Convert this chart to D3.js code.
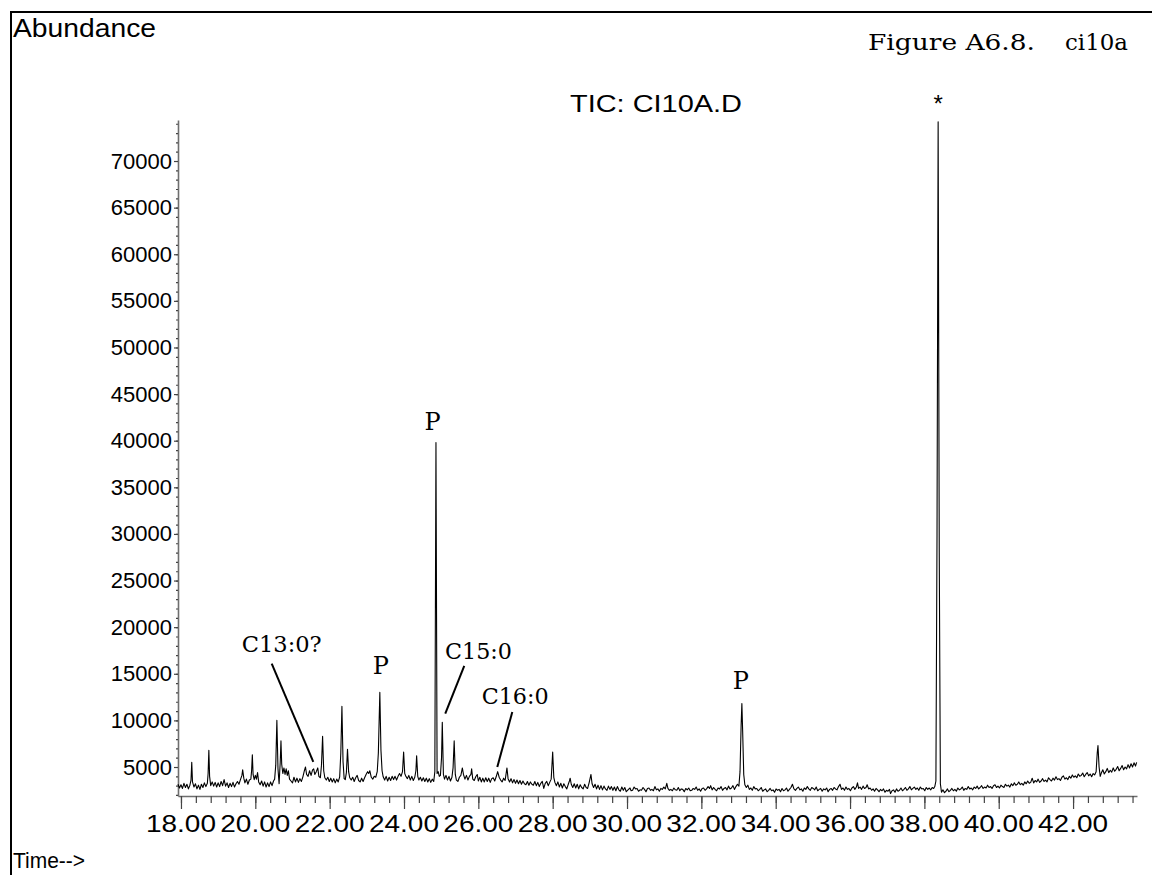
<!DOCTYPE html>
<html>
<head>
<meta charset="utf-8">
<script src="https://cdn.jsdelivr.net/npm/d3@7"></script>
<style>
  html, body { margin: 0; padding: 0; background: #fff; }
  svg { display: block; }
  .sans { font-family: "Liberation Sans", Arial, sans-serif; }
  .serif { font-family: "DejaVu Serif", Georgia, serif; }
</style>
</head>
<body>
<svg id="chart" width="1152" height="875"></svg>
<script>
// Total ion chromatogram, sample CI10A: [retention time (min), abundance]
const scan18to25 = [
  [17.92,3150],[17.96,2750],[18.00,3100],[18.04,2700],[18.08,3250],[18.12,2800],[18.16,3150],[18.20,2650],
  [18.24,3050],[18.27,3600],[18.29,5500],[18.31,3400],[18.35,2850],[18.39,3200],[18.43,2650],[18.47,3050],
  [18.51,2600],[18.55,3150],[18.59,2800],[18.63,3300],[18.67,2900],[18.71,3250],[18.73,4300],[18.75,6800],
  [18.77,4000],[18.80,3000],[18.84,3400],[18.88,2950],[18.92,3350],[18.96,2850],[19.00,3300],[19.04,2900],
  [19.08,3450],[19.12,3000],[19.16,3650],[19.20,2950],[19.24,3300],[19.28,2800],[19.32,3250],[19.36,2900],
  [19.40,3350],[19.44,2850],[19.48,3200],[19.52,3450],[19.56,3150],[19.60,3650],[19.64,4100],[19.66,4700],
  [19.69,3800],[19.72,3300],[19.76,3700],[19.80,3150],[19.84,3600],[19.88,3700],[19.90,4600],[19.92,6300],
  [19.94,4200],[19.97,3650],[20.00,4100],[20.03,3700],[20.06,4400],[20.09,3400],[20.13,3100],[20.17,3500],
  [20.21,2950],[20.25,3400],[20.29,2850],[20.33,3300],[20.37,2900],[20.41,3400],[20.45,3000],[20.49,3500],
  [20.52,3700],[20.55,5200],[20.58,10000],[20.61,4800],[20.64,3200],[20.67,5500],[20.69,7800],[20.71,5300],
  [20.74,4300],[20.77,4900],[20.80,4200],[20.83,4800],[20.86,4100],[20.89,4600],[20.92,3700],[20.96,3500],
  [21.00,3300],[21.04,3900],[21.08,3400],[21.12,3800],[21.16,3350],[21.20,3750],[21.24,3450],[21.28,3950],
  [21.32,4600],[21.35,5000],[21.38,4200],[21.42,4000],[21.46,4600],[21.50,4100],[21.54,4700],[21.57,4800],
  [21.60,4200],[21.64,4500],[21.68,4900],[21.71,4000],[21.75,3850],[21.78,5200],[21.81,8300],[21.84,4600],
  [21.87,3850],[21.91,3600],[21.95,3900],[21.99,3450],[22.03,3800],[22.07,3400],[22.11,3750],[22.15,3300],
  [22.19,3700],[22.23,3400],[22.27,3950],[22.30,6500],[22.33,11500],[22.36,5600],[22.39,3750],[22.42,3650],
  [22.45,4400],[22.48,6900],[22.51,4500],[22.54,3850],[22.58,3600],[22.62,3900],[22.66,3450],[22.70,3850],
  [22.74,4100],[22.78,3550],[22.82,3400],[22.86,3800],[22.90,3450],[22.94,3850],[22.98,4200],[23.02,4500],
  [23.05,4300],[23.08,4600],[23.12,3900],[23.16,3700],[23.20,4000],[23.24,3900],[23.28,4500],[23.31,6500],
  [23.35,13000],[23.38,6800],[23.41,4600],[23.44,3950],[23.48,3600],[23.52,4000],[23.56,3500],[23.60,3900],
  [23.64,3550],[23.68,4000],[23.72,3650],[23.76,4000],[23.80,3600],[23.84,4000],[23.88,4300],[23.92,4000],
  [23.96,4500],[23.99,6600],[24.02,4300],[24.05,4000],[24.09,3750],[24.13,4100],[24.17,3600],[24.21,4000],
  [24.25,3550],[24.29,3900],[24.32,4600],[24.34,6200],[24.37,4000],[24.40,3600],[24.44,3900],[24.48,3500],
  [24.52,3850],[24.56,3450],[24.60,3800],[24.64,3400],[24.68,3750],[24.72,3350],[24.76,3700],[24.80,3450]
];

const scan25to30 = [
  [24.83,4500],[24.86,39800],[24.89,4300],[24.92,4500],[24.95,4000],[24.98,4100],[25.01,6000],[25.03,9800],
  [25.06,4200],[25.09,3700],[25.13,4100],[25.17,3600],[25.21,4000],[25.25,3500],[25.29,3900],[25.32,4900],
  [25.35,7800],[25.38,4200],[25.41,3600],[25.45,3450],[25.49,3900],[25.53,4100],[25.57,4900],[25.60,4200],
  [25.64,3700],[25.68,4100],[25.72,3600],[25.76,4000],[25.80,4200],[25.82,4800],[25.85,3700],[25.89,3550],
  [25.93,3950],[25.97,4200],[26.00,3500],[26.04,3900],[26.08,3400],[26.12,3800],[26.16,3400],[26.20,3850],
  [26.24,3450],[26.28,3800],[26.32,3350],[26.36,3750],[26.40,3850],[26.44,3500],[26.48,3950],[26.52,4500],
  [26.56,3900],[26.60,3600],[26.64,3400],[26.68,3800],[26.72,3550],[26.77,4900],[26.80,3750],[26.84,3400],
  [26.88,3750],[26.92,3300],[26.96,3650],[27.00,3250],[27.04,3600],[27.08,3200],[27.12,3550],[27.16,3150],
  [27.20,3500],[27.24,3200],[27.28,3100],[27.32,3450],[27.36,3050],[27.40,3400],[27.44,3150],[27.48,3050],
  [27.52,3450],[27.56,3000],[27.60,3350],[27.64,2900],[27.68,3250],[27.72,3450],[27.76,2700],[27.80,3250],
  [27.84,3450],[27.88,3000],[27.92,3350],[27.96,3700],[28.00,6600],[28.03,3900],[28.06,3350],[28.10,3000],
  [28.14,3400],[28.18,2850],[28.22,3250],[28.26,2750],[28.30,3200],[28.34,2900],[28.38,2650],[28.42,3150],
  [28.45,3500],[28.47,3800],[28.50,3150],[28.54,2800],[28.58,3200],[28.62,2750],[28.66,3150],[28.70,2650],
  [28.74,3100],[28.78,2800],[28.82,2650],[28.86,3150],[28.90,2800],[28.94,2700],[28.98,3300],[29.03,4200],
  [29.06,3200],[29.10,2800],[29.14,3150],[29.18,2650],[29.22,3050],[29.26,2600],[29.30,3000],[29.34,2550],
  [29.38,2950],[29.42,2650],[29.46,2500],[29.50,2950],[29.54,2600],[29.58,2900],[29.62,2500],[29.66,2850],
  [29.70,2450],[29.74,2900],[29.78,2550],[29.82,2400],[29.86,2850],[29.90,2500],[29.94,2800],[29.98,2350]
];

const scan30to38 = [
  [30.04,2600],[30.08,2750],[30.11,2450],[30.15,2500],[30.19,2850],[30.23,2650],[30.27,2700],[30.31,2400],
  [30.35,2550],[30.39,2500],[30.43,2800],[30.47,2600],[30.51,2350],[30.55,2700],[30.59,2750],[30.63,2500],
  [30.67,2600],[30.71,2450],[30.75,2900],[30.79,2550],[30.83,2650],[30.87,2400],[30.91,2700],[30.95,2600],
  [30.99,2850],[31.03,2650],[31.07,3250],[31.10,2700],[31.14,2500],[31.18,2600],[31.22,2450],[31.26,2750],
  [31.30,2550],[31.34,2500],[31.38,2800],[31.42,2450],[31.46,2650],[31.50,2600],[31.54,2350],[31.58,2700],
  [31.62,2550],[31.66,2750],[31.70,2450],[31.74,2500],[31.78,2700],[31.82,2600],[31.86,2850],[31.90,2500],
  [31.94,2650],[31.98,2400],[32.02,2700],[32.06,2750],[32.10,2500],[32.14,2650],[32.18,2900],[32.22,2700],
  [32.25,3000],[32.29,2550],[32.33,2800],[32.37,2600],[32.41,2450],[32.45,2750],[32.49,2650],[32.53,2900],
  [32.57,2500],[32.61,2700],[32.65,2800],[32.69,2550],[32.73,2950],[32.77,2650],[32.81,2750],[32.85,3000],
  [32.89,2600],[32.93,2900],[32.97,3150],[33.01,2950],[33.04,4500],[33.07,9500],[33.09,11800],[33.11,9000],
  [33.14,4200],[33.17,3100],[33.21,2800],[33.25,3050],[33.29,2600],[33.33,2750],[33.37,2500],[33.41,2900],
  [33.45,2650],[33.49,2700],[33.53,2450],[33.57,2600],[33.61,2800],[33.65,2400],[33.69,2550],[33.73,2650],
  [33.77,2350],[33.81,2500],[33.85,2700],[33.89,2450],[33.93,2550],[33.97,2300],[34.01,2650],[34.05,2500],
  [34.09,2600],[34.13,2350],[34.17,2700],[34.21,2450],[34.25,2550],[34.29,2750],[34.33,2400],[34.37,2600],
  [34.41,2800],[34.45,3150],[34.49,2650],[34.53,2500],[34.57,2700],[34.61,2850],[34.65,2550],[34.69,2650],
  [34.73,2400],[34.77,2750],[34.81,2600],[34.85,2900],[34.89,2650],[34.93,2500],[34.97,2800],[35.01,2700],
  [35.05,2550],[35.09,2850],[35.13,2450],[35.17,2600],[35.21,2700],[35.25,2400],[35.29,2650],[35.33,2550],
  [35.37,2750],[35.41,2350],[35.45,2600],[35.49,2700],[35.53,2500],[35.57,2800],[35.61,2650],[35.65,2550],
  [35.69,2900],[35.73,3150],[35.77,2600],[35.81,2750],[35.85,2500],[35.89,2850],[35.93,2600],[35.97,2700],
  [36.01,2450],[36.05,2750],[36.09,2900],[36.13,2600],[36.17,2850],[36.20,3300],[36.23,2700],[36.27,2850],
  [36.31,2600],[36.35,2950],[36.39,2700],[36.43,2800],[36.46,3100],[36.50,2650],[36.54,2750],[36.58,2500],
  [36.62,2650],[36.66,2400],[36.70,2700],[36.74,2550],[36.78,2350],[36.82,2600],[36.86,2450],[36.90,2650],
  [36.94,2300],[36.98,2500],[37.02,2400],[37.06,2600],[37.09,2150],[37.13,2450],[37.17,2550],[37.21,2300],
  [37.25,2650],[37.29,2400],[37.33,2500],[37.37,2750],[37.41,2450],[37.45,2600],[37.49,2800],[37.53,2500],
  [37.57,2650],[37.61,2900],[37.65,2550],[37.69,2700],[37.73,2850],[37.77,2600],[37.81,2750],[37.85,2500],
  [37.89,2850],[37.93,2650],[37.97,2700],[38.01,2450],[38.05,2800],[38.09,2600],[38.13,2750],[38.17,2550],
  [38.21,2800],[38.25,2700],[38.28,2900]
];

const scan38to44 = [
  [38.31,3500],[38.34,30000],[38.37,74200],[38.40,28000],[38.43,3200],[38.46,2300],[38.50,2550],[38.54,2250],
  [38.58,2400],[38.62,2650],[38.66,2350],[38.70,2500],[38.74,2700],[38.78,2450],[38.82,2600],[38.86,2400],
  [38.90,2750],[38.94,2550],[38.98,2650],[39.02,2850],[39.06,2500],[39.10,2700],[39.14,2600],[39.18,2900],
  [39.22,2650],[39.26,2750],[39.30,2550],[39.34,2850],[39.38,2700],[39.42,2950],[39.46,2650],[39.50,2800],
  [39.54,3000],[39.58,2700],[39.62,2850],[39.66,2750],[39.70,3050],[39.74,2800],[39.78,2900],[39.82,2700],
  [39.86,3000],[39.90,3100],[39.94,2800],[39.98,2950],[40.02,2750],[40.06,3050],[40.10,2900],[40.14,2800],
  [40.18,3150],[40.22,2950],[40.26,3050],[40.30,2850],[40.34,3200],[40.38,3000],[40.42,3300],[40.46,3050],
  [40.50,3150],[40.54,3400],[40.58,3100],[40.62,3250],[40.66,3050],[40.70,3400],[40.74,3200],[40.78,3500],
  [40.82,3250],[40.86,3350],[40.90,3800],[40.94,3300],[40.98,3550],[41.02,3400],[41.06,3700],[41.10,3350],
  [41.14,3500],[41.18,3750],[41.22,3450],[41.26,3600],[41.30,3400],[41.34,3850],[41.38,3650],[41.42,3500],
  [41.46,3800],[41.50,3600],[41.54,3950],[41.58,3650],[41.62,3750],[41.66,3550],[41.70,3900],[41.74,4050],
  [41.78,3700],[41.82,3850],[41.86,3650],[41.90,4000],[41.94,3800],[41.98,4150],[42.02,3900],[42.06,4050],
  [42.10,3850],[42.14,4250],[42.18,4000],[42.22,4100],[42.26,4350],[42.30,3950],[42.34,4200],[42.38,4400],
  [42.42,4050],[42.46,4250],[42.50,3950],[42.54,4300],[42.58,4150],[42.62,4500],[42.65,6500],[42.67,7300],
  [42.70,5000],[42.73,4000],[42.76,4350],[42.80,4700],[42.84,4250],[42.88,4500],[42.92,4850],[42.96,4400],
  [43.00,4650],[43.04,4450],[43.08,4900],[43.12,4550],[43.16,4750],[43.20,5050],[43.24,4600],[43.28,4850],
  [43.32,5150],[43.36,4700],[43.40,5000],[43.44,4800],[43.48,5250],[43.52,4900],[43.56,5350],[43.60,5000],
  [43.64,5450],[43.68,5100],[43.71,5500]
];

// Axis ticks
const timeTicks = [18, 20, 22, 24, 26, 28, 30, 32, 34, 36, 38, 40, 42];
const abundanceTicks = [5000, 10000, 15000, 20000, 25000, 30000, 35000, 40000, 45000, 50000, 55000, 60000, 65000, 70000];

// Peak annotations: label and the point (time, abundance) it refers to
const peakNotes = [
  { label: "C13:0?", time: 21.56, abundance: 5540 },
  { label: "P",      time: 23.35, abundance: 13000 },
  { label: "P",      time: 24.86, abundance: 39800 },
  { label: "C15:0",  time: 25.11, abundance: 10730 },
  { label: "C16:0",  time: 26.51, abundance: 5000 },
  { label: "P",      time: 33.09, abundance: 11800 },
  { label: "*",      time: 38.37, abundance: 74200 }
];

const signal = [].concat(scan18to25, scan25to30, scan30to38, scan38to44);

const svg = d3.select("#chart");
const x = d3.scaleLinear().domain([17.92, 43.72]).range([178, 1137]);
const y = d3.scaleLinear().domain([1890, 74400]).range([796, 120]);

// page frame
svg.append("path")
  .attr("d", "M11,875V12H1152")
  .attr("fill", "none").attr("stroke", "#000").attr("stroke-width", 2);

// headings
function addText(sel, str, attrs) {
  const t = sel.append("text").text(str);
  Object.entries(attrs).forEach(([k, v]) => t.attr(k, v));
  return t;
}
addText(svg, "Abundance", { class: "sans", x: 13, y: 36.5, "font-size": 25,
  textLength: 143, lengthAdjust: "spacingAndGlyphs" });
addText(svg, "Time-->", { class: "sans", x: 13, y: 868, "font-size": 22,
  textLength: 72, lengthAdjust: "spacingAndGlyphs" });
addText(svg, "TIC: CI10A.D", { class: "sans", x: 570, y: 112, "font-size": 23,
  textLength: 172, lengthAdjust: "spacingAndGlyphs" });
addText(svg, "Figure A6.8.", { class: "serif", x: 868, y: 50, "font-size": 23,
  textLength: 167, lengthAdjust: "spacingAndGlyphs" });
addText(svg, "ci10a", { class: "serif", x: 1065, y: 50, "font-size": 23,
  textLength: 63, lengthAdjust: "spacingAndGlyphs" });

// x axis: minor ticks every 0.4 min, major every 2 min
const gx = svg.append("g").attr("transform", `translate(0,${y.range()[0]})`);
gx.append("g").call(d3.axisBottom(x).tickValues(d3.range(18, 43.65, 0.4))
  .tickSize(7).tickSizeOuter(0).tickFormat(""));
gx.append("g").call(d3.axisBottom(x).tickValues(timeTicks)
  .tickSize(13).tickSizeOuter(0).tickFormat(""))
  .select(".domain").remove();
gx.selectAll(".domain").attr("stroke", "#6e6e6e").attr("stroke-width", 1.6);
gx.selectAll(".tick line").attr("stroke", "#444").attr("stroke-width", 1.2);
gx.append("g").selectAll("text").data(timeTicks).join("text")
  .attr("class", "sans")
  .attr("x", d => x(d)).attr("y", 36)
  .attr("text-anchor", "middle")
  .attr("font-size", 24)
  .attr("textLength", 70).attr("lengthAdjust", "spacingAndGlyphs")
  .text(d3.format(".2f"));

// y axis: minor ticks every 1000, labelled ticks every 5000
const gy = svg.append("g").attr("transform", `translate(${x.range()[0]},0)`);
gy.append("g").call(d3.axisLeft(y).tickValues(d3.range(2000, 74001, 1000))
  .tickSize(2).tickSizeOuter(0).tickFormat(""));
gy.append("g").call(d3.axisLeft(y).tickValues(abundanceTicks)
  .tickSize(4).tickSizeOuter(0).tickPadding(2).tickFormat(d3.format("d")))
  .call(g => g.select(".domain").remove())
  .call(g => g.selectAll("text").attr("class", "sans").attr("font-size", 22)
    .attr("fill", "#000").attr("font-family", null));
gy.selectAll(".domain").attr("stroke", "#6e6e6e").attr("stroke-width", 1.6);
gy.selectAll(".tick line").attr("stroke", "#444").attr("stroke-width", 1.2);

// chromatogram trace
svg.append("path")
  .datum(signal)
  .attr("fill", "none")
  .attr("stroke", "#000")
  .attr("stroke-width", 1.1)
  .attr("stroke-linejoin", "round")
  .attr("d", d3.line().x(d => x(d[0])).y(d => y(d[1])));

// annotation layout: text position and leader start relative to the marked point (px)
const noteLayout = {
  "C13:0?": { dx: -71.6, dy: -110, lead: [-41.6, -98.4], len: 80 },
  "C15:0":  { dx: -0.3, dy: -54.3, lead: [19, -47.6], len: 67 },
  "C16:0":  { dx: -15.6, dy: -62.7, lead: [15, -55], len: 67 }
};
const peakOffsets = { 23.35: [1, -18], 24.86: [-3.5, -12.5], 33.09: [-1, -15], 38.37: [0, -10] };

const gn = svg.append("g");
peakNotes.forEach(n => {
  const px = x(n.time), py = y(n.abundance);
  const lay = noteLayout[n.label];
  if (lay) {
    gn.append("line")
      .attr("x1", px + lay.lead[0]).attr("y1", py + lay.lead[1])
      .attr("x2", px).attr("y2", py)
      .attr("stroke", "#000").attr("stroke-width", 2);
    gn.append("text").attr("class", "serif")
      .attr("x", px + lay.dx).attr("y", py + lay.dy)
      .attr("font-size", 23)
      .attr("textLength", lay.len).attr("lengthAdjust", "spacingAndGlyphs")
      .text(n.label);
  } else {
    const off = peakOffsets[n.time];
    const star = n.label === "*";
    gn.append("text").attr("class", star ? "sans" : "serif")
      .attr("x", px + off[0]).attr("y", py + off[1])
      .attr("text-anchor", "middle")
      .attr("font-size", 24)
      .text(n.label);
  }
});
</script>
</body>
</html>
